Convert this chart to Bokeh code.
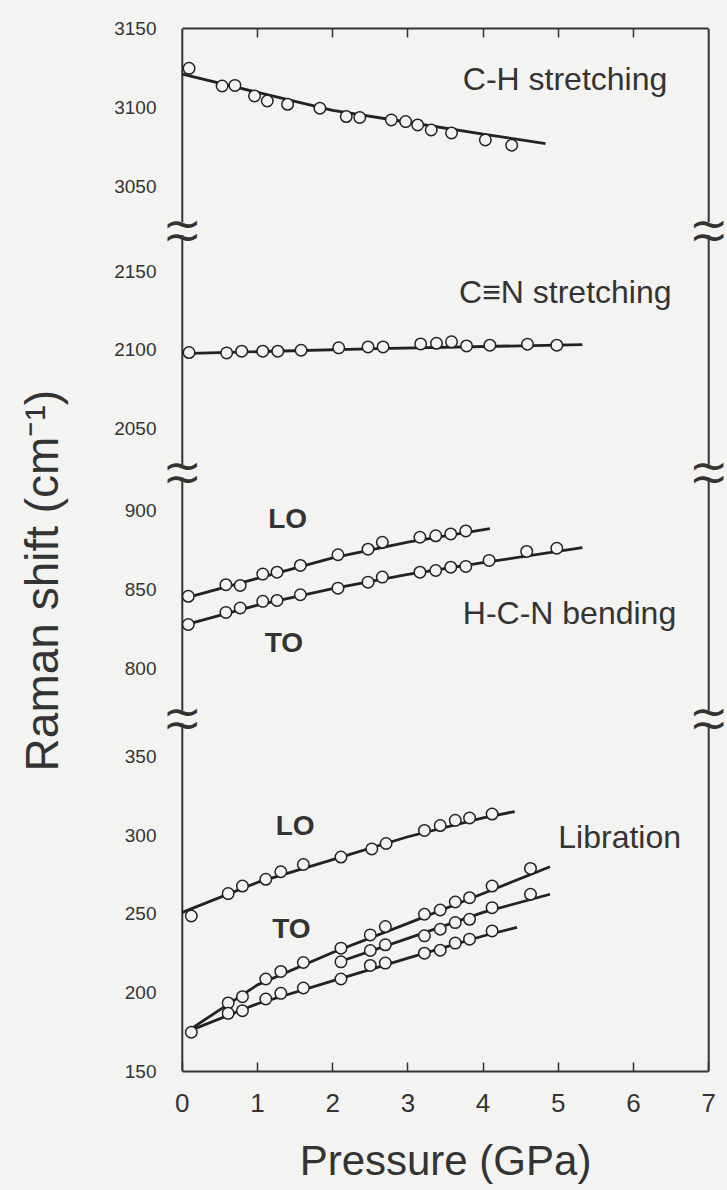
from math import pi
from bokeh.plotting import figure
from bokeh.layouts import row
from bokeh.models import Range1d, FixedTicker, LinearAxis, Label
from bokeh.embed import file_html
from bokeh.resources import INLINE

# ---------------- data (pressure in GPa, Raman shift in cm^-1) ----------------
# C-H stretching
ch_p = [0.09, 0.53, 0.70, 0.96, 1.13, 1.40, 1.83, 2.18, 2.36, 2.78, 2.97, 3.13, 3.31, 3.58, 4.03, 4.38]
ch_v = [3124.7, 3113.5, 3113.9, 3107.2, 3104.0, 3101.9, 3099.4, 3094.1, 3093.5, 3092.0, 3090.9, 3088.8,
        3085.6, 3083.7, 3079.3, 3075.9]
ch_fit_p = [0.0, 1.0, 2.0, 3.0, 4.0, 4.83]
ch_fit_v = [3121.0, 3109.5, 3098.0, 3090.5, 3083.0, 3077.0]

# C≡N stretching
cn_p = [0.09, 0.59, 0.79, 1.07, 1.27, 1.58, 2.08, 2.47, 2.67, 3.17, 3.38, 3.58, 3.78, 4.09, 4.59, 4.98]
cn_v = [2098.3, 2098.1, 2099.2, 2099.2, 2099.2, 2099.8, 2101.3, 2101.9, 2101.9, 2103.8, 2104.2, 2105.1,
        2102.5, 2103.0, 2103.6, 2103.0]
cn_fit_p = [0.0, 2.6, 5.32]
cn_fit_v = [2097.7, 2100.8, 2103.4]

# H-C-N bending, LO and TO
hcn_lo_p = [0.08, 0.58, 0.77, 1.07, 1.26, 1.57, 2.07, 2.47, 2.66, 3.16, 3.37, 3.57, 3.77]
hcn_lo_v = [845.6, 853.0, 852.5, 859.7, 860.9, 865.2, 872.0, 875.5, 879.9, 883.1, 884.0, 885.2, 887.1]
hcn_lo_fit_p = [0.0, 1.0, 2.0, 3.0, 4.09]
hcn_lo_fit_v = [844.0, 857.0, 870.0, 880.0, 888.5]

hcn_to_p = [0.08, 0.58, 0.77, 1.07, 1.26, 1.57, 2.07, 2.47, 2.66, 3.16, 3.37, 3.57, 3.77, 4.08, 4.58, 4.98]
hcn_to_v = [827.7, 835.4, 838.2, 842.4, 843.0, 846.6, 850.8, 854.6, 857.8, 860.9, 862.0, 864.1, 864.6,
            868.4, 874.1, 876.1]
hcn_to_fit_p = [0.0, 1.0, 2.0, 3.0, 4.0, 5.32]
hcn_to_fit_v = [827.0, 840.0, 850.5, 859.5, 867.0, 876.5]

# Libration, LO
lib_lo_p = [0.12, 0.61, 0.80, 1.11, 1.31, 1.61, 2.11, 2.52, 2.71, 3.22, 3.43, 3.63, 3.82, 4.12]
lib_lo_v = [248.7, 262.9, 267.7, 272.0, 276.8, 281.4, 286.1, 291.3, 294.7, 303.0, 306.1, 309.4, 310.9, 313.4]
lib_lo_fit_p = [0.0, 1.0, 2.0, 3.0, 4.0, 4.42]
lib_lo_fit_v = [251.0, 270.0, 284.5, 299.0, 311.0, 315.0]

# Libration, TO (three branches)
lib_to1_p = [0.12, 0.61, 0.80, 1.11, 1.31, 1.61, 2.11, 2.50, 2.70, 3.22, 3.43, 3.63, 3.82, 4.12, 4.63]
lib_to1_v = [174.9, 193.5, 197.5, 208.7, 213.5, 219.2, 228.3, 236.7, 242.0, 249.8, 252.5, 257.6, 260.3,
             267.7, 278.9]
lib_to1_fit_p = [0.05, 1.0, 2.0, 3.0, 4.0, 4.89]
lib_to1_fit_v = [175.0, 205.0, 225.5, 244.0, 263.0, 280.0]

lib_to2_p = [2.11, 2.50, 2.70, 3.22, 3.43, 3.63, 3.82, 4.12, 4.63]
lib_to2_v = [219.6, 226.8, 230.4, 236.1, 240.3, 244.5, 246.6, 254.0, 262.5]
lib_to2_fit_p = [2.08, 3.0, 4.0, 4.89]
lib_to2_fit_v = [219.5, 234.5, 251.0, 262.5]

lib_to3_p = [0.61, 0.80, 1.11, 1.31, 1.61, 2.11, 2.50, 2.70, 3.22, 3.43, 3.63, 3.82, 4.12]
lib_to3_v = [186.9, 188.6, 196.0, 199.6, 203.0, 208.7, 217.3, 218.8, 225.1, 227.0, 231.5, 234.0, 239.2]
lib_to3_fit_p = [0.05, 1.0, 2.0, 3.0, 4.0, 4.45]
lib_to3_fit_v = [175.0, 193.0, 207.5, 222.0, 236.0, 241.5]

# broken y axis: segments from bottom to top
seg_names = ["lib", "hcn", "cn", "ch"]
seg_low = [150, 769, 2023, 3023]
seg_high = [375, 925, 2177, 3150]
seg_ticks = [[150, 200, 250, 300, 350], [800, 850, 900], [2050, 2100, 2150], [3050, 3100, 3150]]

x_ticks = [0, 1, 2, 3, 4, 5, 6, 7]

# ---------------- style ----------------
BG = "#f3f3f1"
INK = "#222222"
TXT = "#333333"
FONT = "Liberation Sans"

# offsets that stack the segments on one continuous display axis
off = {}
base = seg_low[0]
for name, lo, hi in zip(seg_names, seg_low, seg_high):
    off[name] = base - lo
    base += hi - lo
y_top = base


def disp(vals, name):
    return [v + off[name] for v in vals]


XPAD = 0.25
p = figure(width=657, height=1190, x_range=Range1d(x_ticks[0] - XPAD, x_ticks[-1] + XPAD),
           y_range=Range1d(seg_low[0], y_top),
           output_backend="svg", toolbar_location=None,
           min_border_left=93, min_border_right=0, min_border_top=28, min_border_bottom=119,
           background_fill_color=BG, border_fill_color=BG, outline_line_color=None)
p.grid.visible = False

# x axis (bottom)
xa = p.xaxis[0]
xa.ticker = FixedTicker(ticks=x_ticks)
xa.bounds = (x_ticks[0], x_ticks[-1])
xa.major_tick_in = 9
xa.major_tick_out = 0
xa.minor_tick_line_color = None
xa.axis_line_width = 2
xa.axis_line_color = TXT
xa.major_tick_line_color = TXT
xa.major_tick_line_width = 1.5
xa.major_label_text_font = FONT
xa.major_label_text_font_size = "26px"
xa.major_label_text_color = TXT
xa.major_label_standoff = 22
xa.axis_label = "Pressure (GPa)"
xa.axis_label_text_font = FONT
xa.axis_label_text_font_size = "42px"
xa.axis_label_text_font_style = "normal"
xa.axis_label_text_color = TXT
xa.axis_label_standoff = 22

# top axis: frame line and inward ticks, no labels
top = LinearAxis(ticker=FixedTicker(ticks=x_ticks[1:-1]), bounds=(x_ticks[0], x_ticks[-1]),
                 major_tick_in=9, major_tick_out=0,
                 minor_tick_line_color=None, axis_line_width=2, axis_line_color=TXT,
                 major_tick_line_color=TXT, major_tick_line_width=1.5,
                 major_label_text_color=None, major_label_text_font_size="8px", major_label_standoff=0)
p.add_layout(top, "above")

# y axis: labels only, positioned per segment
ticks, overrides = [], {}
for name, tv in zip(seg_names, seg_ticks):
    for t in tv:
        pos = t + off[name]
        ticks.append(pos)
        overrides[pos] = str(t)
ya = p.yaxis[0]
ya.ticker = FixedTicker(ticks=ticks)
ya.major_label_overrides = overrides
ya.axis_line_color = None
ya.major_tick_line_color = None
ya.minor_tick_line_color = None
ya.major_label_text_font = FONT
ya.major_label_text_font_size = "19px"
ya.major_label_text_color = TXT
ya.major_label_standoff = 1

# vertical frame lines with breaks
gap = 4
n = len(seg_names)
for i, name in enumerate(seg_names):
    y0 = seg_low[i] + off[name] + (gap if i > 0 else 0)
    y1 = seg_high[i] + off[name] - (gap if i < n - 1 else 0)
    p.segment(x0=[x_ticks[0], x_ticks[-1]], y0=[y0, y0], x1=[x_ticks[0], x_ticks[-1]], y1=[y1, y1],
              line_color=TXT, line_width=2)

# break marks
for i in range(n - 1):
    yj = seg_high[i] + off[seg_names[i]]
    for xx in (x_ticks[0], x_ticks[-1]):
        for dy in (6.5, -6.5):
            p.add_layout(Label(x=xx, y=yj, y_offset=dy, text="~", text_align="center",
                               text_baseline="middle", text_font="DejaVu Sans",
                               text_font_size="47px", text_color=TXT))

# curves and points
series = [
    ("ch", ch_fit_p, ch_fit_v, ch_p, ch_v),
    ("cn", cn_fit_p, cn_fit_v, cn_p, cn_v),
    ("hcn", hcn_lo_fit_p, hcn_lo_fit_v, hcn_lo_p, hcn_lo_v),
    ("hcn", hcn_to_fit_p, hcn_to_fit_v, hcn_to_p, hcn_to_v),
    ("lib", lib_lo_fit_p, lib_lo_fit_v, lib_lo_p, lib_lo_v),
    ("lib", lib_to1_fit_p, lib_to1_fit_v, lib_to1_p, lib_to1_v),
    ("lib", lib_to2_fit_p, lib_to2_fit_v, lib_to2_p, lib_to2_v),
    ("lib", lib_to3_fit_p, lib_to3_fit_v, lib_to3_p, lib_to3_v),
]
for name, fp, fv, px, pv in series:
    p.line(fp, disp(fv, name), line_color=INK, line_width=2.8)
for name, fp, fv, px, pv in series:
    p.scatter(px, disp(pv, name), marker="circle", size=11.5, fill_color=BG, line_color=INK, line_width=1.5)

# annotations (x in GPa, y in cm^-1 of their segment)
notes = [
    ("C-H stretching", 3.73, 3118, "ch", "left", "normal", "32px"),
    ("C\u2261N stretching", 3.68, 2137, "cn", "left", "normal", "32px"),
    ("H-C-N bending", 3.73, 835, "hcn", "left", "normal", "32px"),
    ("LO", 1.40, 895, "hcn", "center", "bold", "28px"),
    ("TO", 1.35, 816, "hcn", "center", "bold", "28px"),
    ("LO", 1.50, 306, "lib", "center", "bold", "28px"),
    ("TO", 1.45, 241, "lib", "center", "bold", "28px"),
    ("Libration", 5.0, 299, "lib", "left", "normal", "32px"),
]
for text, xx, yy, name, align, style, size in notes:
    p.add_layout(Label(x=xx, y=yy + off[name], text=text, text_align=align, text_baseline="middle",
                       text_font=FONT, text_font_size=size, text_font_style=style, text_color=TXT))

# y axis title in a narrow strip on the left
t = figure(width=70, height=1190, x_range=Range1d(0, 70), y_range=Range1d(0, 1190),
           output_backend="svg", toolbar_location=None, x_axis_type=None, y_axis_type=None,
           min_border=0, background_fill_color=BG, border_fill_color=BG, outline_line_color=None)
t.grid.visible = False
t.add_layout(Label(x=41, y=560, text="Raman shift (cm\u207b\u00b9)", angle=pi / 2, text_align="center",
                   text_baseline="middle", text_font=FONT, text_font_size="46px", text_color=TXT))

layout = row(t, p, spacing=0, styles={"background-color": BG})
open("out.html", "w").write(file_html(layout, INLINE))
